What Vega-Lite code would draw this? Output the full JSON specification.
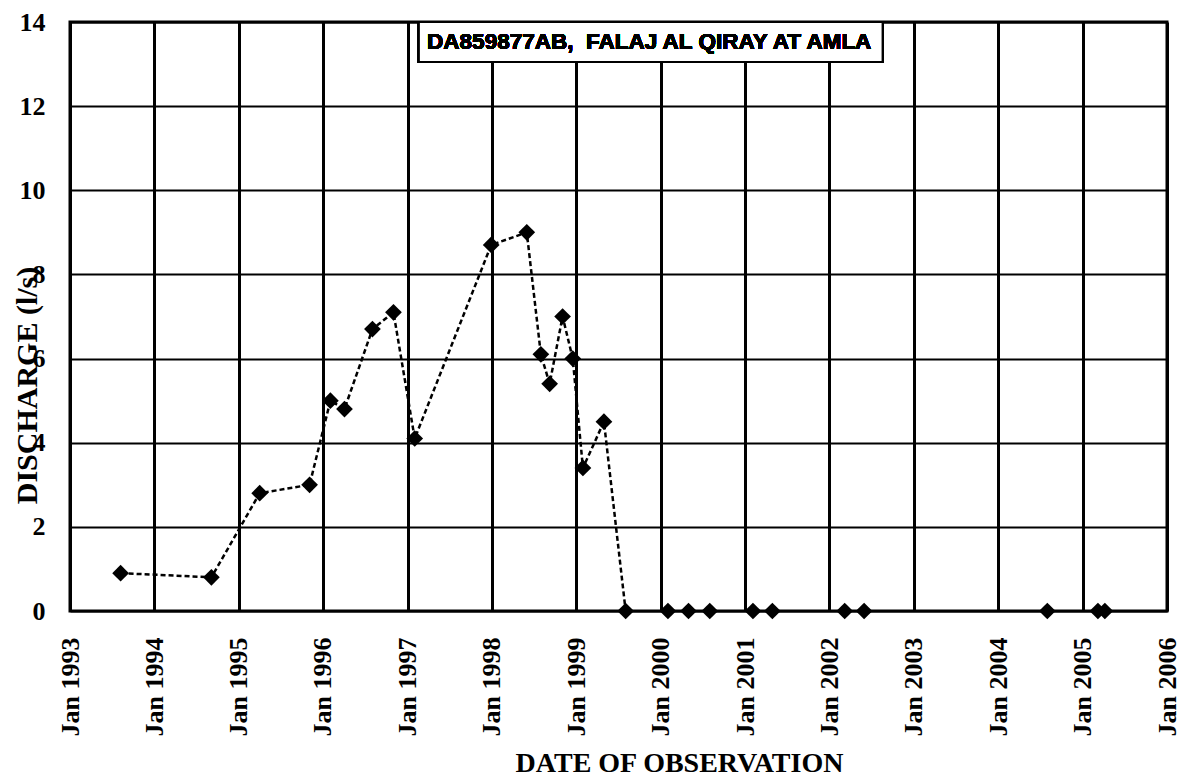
{
  "$schema": "https://vega.github.io/schema/vega-lite/v6.json",
  "width": 1097,
  "height": 589,
  "autosize": {"type": "none"},
  "padding": {"left": 70, "top": 22, "right": 18, "bottom": 169},
  "background": "white",
  "config": {
    "view": {"stroke": "black", "strokeWidth": 3},
    "axis": {
      "labelFont": "Liberation Serif",
      "labelFontWeight": "bold",
      "labelFontSize": 26,
      "labelColor": "black",
      "gridColor": "black",
      "gridOpacity": 1,
      "domain": false,
      "ticks": false,
      "titleFont": "Liberation Serif",
      "titleFontWeight": "bold",
      "titleColor": "black"
    }
  },
  "data": {
    "values": [
      {"date": "1993-08-08", "q": 0.9},
      {"date": "1994-09-05", "q": 0.8},
      {"date": "1995-04-02", "q": 2.8},
      {"date": "1995-11-04", "q": 3.0},
      {"date": "1996-02-02", "q": 5.0},
      {"date": "1996-04-03", "q": 4.8},
      {"date": "1996-08-02", "q": 6.7},
      {"date": "1996-11-01", "q": 7.1},
      {"date": "1997-02-01", "q": 4.1},
      {"date": "1997-12-29", "q": 8.7},
      {"date": "1998-06-01", "q": 9.0},
      {"date": "1998-08-01", "q": 6.1},
      {"date": "1998-09-08", "q": 5.4},
      {"date": "1998-11-03", "q": 7.0},
      {"date": "1998-12-17", "q": 6.0},
      {"date": "1999-01-30", "q": 3.4},
      {"date": "1999-05-01", "q": 4.5},
      {"date": "1999-08-03", "q": 0},
      {"date": "2000-02-02", "q": 0},
      {"date": "2000-05-01", "q": 0},
      {"date": "2000-08-01", "q": 0},
      {"date": "2001-02-04", "q": 0},
      {"date": "2001-04-29", "q": 0},
      {"date": "2002-03-08", "q": 0},
      {"date": "2002-05-31", "q": 0},
      {"date": "2004-08-01", "q": 0},
      {"date": "2005-03-08", "q": 0},
      {"date": "2005-04-07", "q": 0}
    ]
  },
  "layer": [
    {
      "transform": [{"filter": {"field": "date", "lte": {"year": 1999, "month": 8, "date": 10}}}],
      "mark": {"type": "line", "color": "black", "strokeWidth": 2.5, "strokeDash": [5, 3]},
      "encoding": {
        "x": {
          "field": "date",
          "type": "temporal",
          "scale": {"domain": [{"year": 1993, "month": 1, "date": 1}, {"year": 2006, "month": 1, "date": 1}]},
          "axis": {
            "title": "DATE OF OBSERVATION",
            "titleFontSize": 28,
            "titleX": 609,
            "titleY": 160,
            "titleAlign": "center",
            "titleBaseline": "alphabetic",
            "format": "%b %Y",
            "tickCount": {"interval": "year", "step": 1},
            "labelAngle": 270,
            "labelAlign": "right",
            "labelBaseline": "middle",
            "labelPadding": 26,
            "labelFlush": false,
            "labelOverlap": false,
            "labelBound": false,
            "gridWidth": 3
          }
        },
        "y": {
          "field": "q",
          "type": "quantitative",
          "scale": {"domain": [0, 14], "nice": false},
          "axis": {
            "title": "DISCHARGE (l/s)",
            "titleFontSize": 30,
            "titleX": -43,
            "titleY": 363,
            "titleAngle": 270,
            "titleAlign": "center",
            "titleBaseline": "middle",
            "values": [0, 2, 4, 6, 8, 10, 12, 14],
            "labelPadding": 25,
            "labelOverlap": false,
            "gridWidth": 2
          }
        }
      }
    },
    {
      "mark": {"type": "point", "shape": "diamond", "filled": true, "color": "black", "opacity": 1, "size": 280},
      "encoding": {
        "x": {"field": "date", "type": "temporal"},
        "y": {"field": "q", "type": "quantitative"}
      }
    },
    {
      "mark": {"type": "rect", "fill": "white", "stroke": "black", "strokeWidth": 2},
      "encoding": {
        "x": {"datum": {"year": 1997, "month": 2, "date": 19}, "type": "temporal"},
        "x2": {"datum": {"year": 2002, "month": 8, "date": 19}},
        "y": {"datum": 14, "type": "quantitative"},
        "y2": {"datum": 13.05}
      }
    },
    {
      "mark": {"type": "text", "font": "Liberation Sans", "fontWeight": "bold", "fontSize": 22.5, "color": "black", "align": "center", "baseline": "middle"},
      "encoding": {
        "x": {"datum": {"year": 1999, "month": 11, "date": 13}, "type": "temporal"},
        "y": {"datum": 13.52, "type": "quantitative"},
        "text": {"value": "DA859877AB,\u00a0 FALAJ AL QIRAY AT AMLA"}
      }
    }
  ]
}
